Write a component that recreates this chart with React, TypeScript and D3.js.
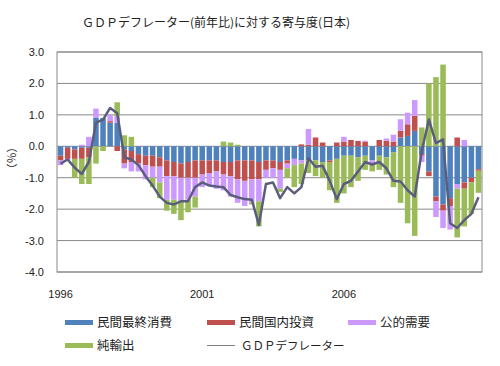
import React from "react";
import * as d3 from "d3";

// 1996Q1 - 2010Q4, contributions to GDP deflator (y/y, %)
const years = [1996, 1997, 1998, 1999, 2000, 2001, 2002, 2003, 2004, 2005, 2006, 2007, 2008, 2009, 2010];
const yearLabels = ["1996", "2001", "2006"];
const yTicks = [3, 2, 1, 0, -1, -2, -3, -4];

const consumption = [
  -0.30, -0.05, -0.10, -0.05, -0.05, 0.90, 0.90, 0.75, 0.75, -0.10,
  -0.15, -0.25, -0.30, -0.30, -0.35, -0.45, -0.50, -0.55, -0.50, -0.45,
  -0.45, -0.45, -0.45, -0.50, -0.50, -0.45, -0.45, -0.45, -0.50, -0.45,
  -0.45, -0.50, -0.45, -0.40, -0.45, -0.45, -0.45, -0.50, -0.45, -0.40,
  -0.30, -0.30, -0.35, -0.30, -0.45, -0.30, -0.35, -0.20, 0.28, 0.33,
  0.49, -0.25, -0.80, -1.60, -1.85, -1.65, -1.20, -1.15, -1.00, -0.73,
];
const investment = [
  -0.15, -0.35, -0.30, -0.35, -0.30, 0.00, 0.00, 0.05, -0.15, -0.45,
  -0.35, -0.30, -0.30, -0.35, -0.30, -0.50, -0.45, -0.45, -0.50, -0.55,
  -0.45, -0.40, -0.35, -0.40, -0.45, -0.60, -0.65, -0.60, -0.55, -0.30,
  -0.25, -0.25, -0.10, 0.00, 0.06, 0.05, 0.28, 0.12, -0.05, 0.12,
  0.15, 0.20, 0.17, 0.15, 0.00, 0.20, 0.18, 0.15, 0.21, 0.37,
  0.48, -0.05, -0.15, -0.15, -0.20, -0.25, 0.28, -0.20, -0.15, -0.05,
];
const publicDemand = [
  -0.15, -0.05, 0.00, 0.05, 0.30, 0.30, 0.00, 0.20, 0.20, -0.15,
  -0.30, -0.25, -0.45, -0.35, -0.50, -0.75, -0.75, -0.75, -0.70, -0.60,
  -0.40, -0.40, -0.55, -0.50, -0.65, -0.75, -0.80, -0.75, -0.70, -0.25,
  -0.30, -0.60, -0.15, -0.20, -0.10, 0.50, 0.00, 0.00, 0.00, 0.00,
  0.15, 0.00, 0.00, 0.03, -0.10, 0.00, 0.07, 0.22, 0.37, 0.37,
  0.50, -0.20, 0.00, -0.50, -0.55, -0.75, -0.15, 0.20, 0.00, 0.00,
];
const netExports = [
  0.00, 0.00, -0.60, -0.80, -0.85, -0.55, -0.15, 0.00, 0.45, 0.35,
  0.30, 0.00, 0.00, -0.30, -0.50, -0.35, -0.45, -0.60, -0.40, -0.35,
  0.00, 0.00, 0.00, 0.15, 0.12, 0.05, 0.00, -0.05, -0.80, 0.00,
  0.00, -0.10, -0.30, -0.70, -0.65, -0.40, -0.50, -0.50, -0.90, -1.40,
  -1.20, -1.00, -0.75, -0.45, -0.25, -0.45, -0.55, -1.10, -1.80, -2.45,
  -2.85, 0.60, 2.00, 2.20, 2.60, 0.00, -1.55, -1.20, -1.00, -0.70,
];
const deflator = [
  -0.55, -0.42, -0.68, -0.88, -0.50, 0.75, 0.85, 1.22, 1.05, -0.35,
  -0.42, -0.60, -0.95, -1.25, -1.60, -1.80, -1.85, -1.75, -1.75, -1.30,
  -1.15, -1.25, -1.28, -1.30, -1.55, -1.62, -1.68, -1.70, -2.50, -1.20,
  -1.15, -1.65, -1.30, -1.50, -1.30, -0.38, -0.65, -0.62, -1.10, -1.68,
  -1.20, -1.10, -0.80, -0.50, -0.58, -0.50, -0.70, -1.10, -1.12, -1.40,
  -1.60, -0.15, 0.85, 0.10, 0.22, -2.45, -2.60, -2.35, -2.15, -1.62,
];

const seriesNames = ["民間最終消費", "民間国内投資", "公的需要", "純輸出"];
const colors = ["#4f81bd", "#c0504d", "#cc99ff", "#9bbb59"];
const lineColor = "#5a5e7c";

const quarters: string[] = [];
years.forEach((y) => ["Q1", "Q2", "Q3", "Q4"].forEach((q) => quarters.push(y + q)));

const table = quarters.map((q, i) => ({
  q,
  [seriesNames[0]]: consumption[i],
  [seriesNames[1]]: investment[i],
  [seriesNames[2]]: publicDemand[i],
  [seriesNames[3]]: netExports[i],
}));

const jp = "'Noto Sans CJK JP', sans-serif";
const num = "'Liberation Sans', Arial, sans-serif";

export default function App() {
  const left = 57, right = 482, top = 52, bottom = 272;

  const x = d3.scaleBand().domain(quarters).range([left, right]).paddingInner(0.22).paddingOuter(0.11);
  const y = d3.scaleLinear().domain([-4, 3]).range([bottom, top]);

  const stacked = d3.stack<any>().keys(seriesNames).offset(d3.stackOffsetDiverging)(table);

  const line = d3.line<number>()
    .x((_, i) => (x(quarters[i]) as number) + x.bandwidth() / 2)
    .y((d) => y(d));

  const legendRows = [
    [{ name: seriesNames[0], c: colors[0], x: 65 }, { name: seriesNames[1], c: colors[1], x: 207 }, { name: seriesNames[2], c: colors[2], x: 348 }],
    [{ name: seriesNames[3], c: colors[3], x: 65 }],
  ];

  return (
    <svg width={500} height={366} style={{ position: "absolute", left: 0, top: 0, background: "#fff" }}>
      <text x={216} y={27} textAnchor="middle" fontFamily={jp} fontSize={12} fill="#222">
        ＧＤＰデフレーター(前年比)に対する寄与度(日本)
      </text>

      {yTicks.map((t) => (
        <g key={t}>
          <line x1={left} x2={right} y1={y(t)} y2={y(t)} stroke="#8a8a8a" strokeWidth={1} />
          <text x={44} y={y(t) + 4} textAnchor="end" fontFamily={num} fontSize={11} fill="#222">
            {t.toFixed(1)}
          </text>
        </g>
      ))}
      <text transform="translate(16,158) rotate(-90)" textAnchor="middle" fontFamily={jp} fontSize={11} fill="#222">
        （％）
      </text>

      {stacked.map((s, k) => (
        <g key={s.key} fill={colors[k]}>
          {s.map((d, i) => {
            const y0 = y(d[0]), y1 = y(d[1]);
            return (
              <rect key={i} x={x(quarters[i])} width={x.bandwidth()}
                y={Math.min(y0, y1)} height={Math.abs(y0 - y1)} />
            );
          })}
        </g>
      ))}

      <path d={line(deflator) || ""} fill="none" stroke={lineColor} strokeWidth={2.5} strokeLinejoin="round" />

      <rect x={left} y={top} width={right - left} height={bottom - top} fill="none" stroke="#8a8a8a" strokeWidth={1} />

      {yearLabels.map((yr) => (
        <text key={yr} x={(x(yr + "Q1") as number) + x.bandwidth() / 2} y={298} textAnchor="middle"
          fontFamily={num} fontSize={11} fill="#222">
          {yr}
        </text>
      ))}

      {legendRows.map((row, r) =>
        row.map((it) => (
          <g key={it.name}>
            <rect x={it.x} y={320 + r * 23} width={28} height={5} fill={it.c} />
            <text x={it.x + 32} y={327 + r * 23} fontFamily={jp} fontSize={12.5} fill="#222">{it.name}</text>
          </g>
        ))
      )}
      <line x1={207} x2={235} y1={345.5} y2={345.5} stroke="#808080" strokeWidth={1} />
      <text x={241} y={350} fontFamily={jp} fontSize={11.5} fill="#222">ＧＤＰデフレーター</text>
    </svg>
  );
}
